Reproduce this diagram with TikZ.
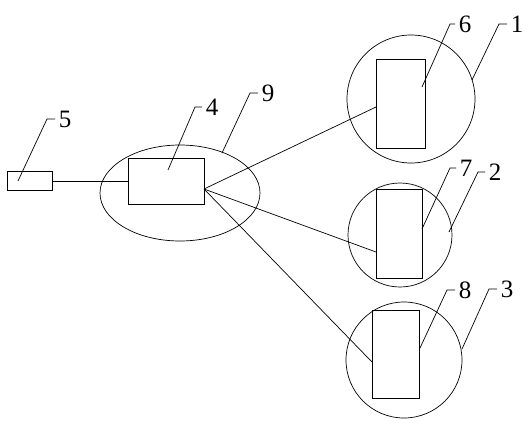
\documentclass[tikz,border=0pt]{standalone}
\usepackage{fontspec}
\setmainfont{Liberation Serif}
\usetikzlibrary{shapes.geometric}

\begin{document}
\begin{tikzpicture}[x=1pt, y=-1pt,
  line width=0.7pt,
  part/.style={draw, rectangle, inner sep=0pt},
  ring/.style={draw, circle, inner sep=0pt},
  num/.style={anchor=west, inner sep=3.5pt, font=\fontsize{25}{25}\selectfont}
]
\useasboundingbox (0,0) rectangle (530,424);

% boxes
\node[part, minimum width=45pt, minimum height=19pt] (box5) at (29.5,181) {};
\node[part, minimum width=76pt, minimum height=46pt] (box4) at (166,181) {};
\node[part, minimum width=49pt, minimum height=89pt] (box6) at (400.5,103.5) {};
\node[part, minimum width=46pt, minimum height=89pt] (box7) at (399,233.5) {};
\node[part, minimum width=47pt, minimum height=88pt] (box8) at (395.5,354) {};

% rings
\node[draw, ellipse, inner sep=0pt, minimum width=160pt, minimum height=96pt] (ring9) at (180,193) {};
\node[ring, minimum size=128pt] (ring1) at (411,99) {};
\node[ring, minimum size=104pt] (ring2) at (400,235) {};
\node[ring, minimum size=116pt] (ring3) at (404,360) {};

% links
\coordinate (fan) at (204,189);
\coordinate (in6) at (376,107);
\coordinate (in7) at (376,252);
\coordinate (in8) at (372,362);
\draw (box5.east) -- (box4.west);
\draw (fan) -- (in6);
\draw (fan) -- (in7);
\draw (fan) -- (in8);

% numbers
\node[num] (n5) at (55,119) {5};
\node[num] (n4) at (202,107) {4};
\node[num] (n9) at (258,93) {9};
\node[num] (n6) at (455,24) {6};
\node[num] (n1) at (507,24) {1};
\node[num] (n7) at (456,168) {7};
\node[num] (n2) at (485,172) {2};
\node[num] (n8) at (455,290) {8};
\node[num] (n3) at (497,289) {3};

% leaders
\coordinate (p5) at (18,181);
\coordinate (p4) at (168,170);
\coordinate (p9) at (222,153);
\coordinate (p6) at (422,87);
\coordinate (p1) at (472,80);
\coordinate (p7) at (422,229);
\coordinate (p2) at (449,232);
\coordinate (p8) at (420,348);
\coordinate (p3) at (462,349);
\draw (p5) -- (47,119) -- (n5.west);
\draw (p4) -- (195,107) -- (n4.west);
\draw (p9) -- (250,93) -- (n9.west);
\draw (p6) -- (450,24) -- (n6.west);
\draw (p1) -- (499,24) -- (n1.west);
\draw (p7) -- (450,168) -- (n7.west);
\draw (p2) -- (478,172) -- (n2.west);
\draw (p8) -- (447,290) -- (n8.west);
\draw (p3) -- (489,289) -- (n3.west);
\end{tikzpicture}
\end{document}
